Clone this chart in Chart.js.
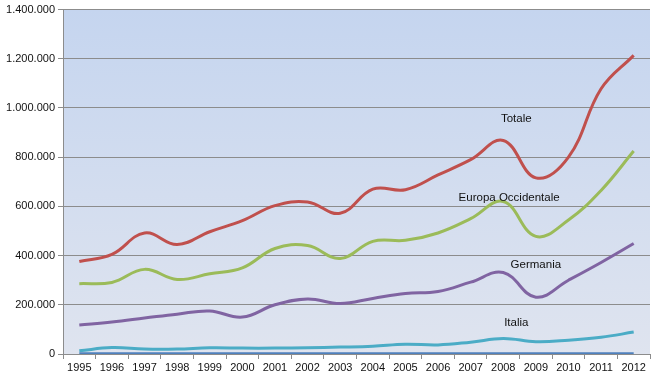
<!DOCTYPE html>
<html><head><meta charset="utf-8">
<script src="https://cdn.jsdelivr.net/npm/chart.js@4/dist/chart.umd.min.js"></script>
<style>html,body{margin:0;padding:0;background:#fff}#w{width:659px;height:378px}</style>
</head><body><div id="w"><canvas id="c"></canvas></div>
<script>
const years = ['1995','1996','1997','1998','1999','2000','2001','2002','2003','2004','2005','2006','2007','2008','2009','2010','2011','2012'];
const totale = [376000,405000,492000,445000,497000,542000,603000,618000,572000,670000,668000,728000,790000,868000,716000,800000,1078000,1214000];
const europa = [286000,291000,344000,303000,326000,350000,429000,441000,388000,458000,462000,492000,550000,620000,478000,545000,665000,825000];
const germania = [118000,130000,146000,162000,175000,150000,200000,224000,205000,226000,246000,254000,292000,331000,231000,300000,372000,449000];
const italia = [13000,26000,20000,20000,25000,24000,24000,25000,28000,32000,40000,37000,48000,63000,50000,56000,68000,89000];
const altro = [1000,1000,1000,1000,1000,1000,1000,1000,1000,1000,1000,1000,1000,1000,1000,1000,1000,1000];
const yTicks = [0,200000,400000,600000,800000,1000000,1200000,1400000];
const noteTexts = ['Totale','Europa Occidentale','Germania','Italia'];
const noteCats = [13.4,13.18,14.0,13.4];
const noteValues = [955000,635000,364000,125000];

const fmt = v => String(v).replace(/\B(?=(\d{3})+(?!\d))/g, '.');

const bgPlugin = {
  id:'bg',
  beforeDraw(chart){
    const {ctx, chartArea:a} = chart;
    const g = ctx.createLinearGradient(0,a.top,0,a.bottom);
    g.addColorStop(0,'#c5d5ef');
    g.addColorStop(1,'#dfe4ef');
    ctx.save(); ctx.fillStyle = g; ctx.fillRect(a.left,a.top,a.right-a.left,a.bottom-a.top); ctx.restore();
  }
};
const notePlugin = {
  id:'notes',
  afterDatasetsDraw(chart){
    const {ctx, scales:{x,y}} = chart;
    ctx.save();
    ctx.font = '11.5px "Liberation Sans", Arial, sans-serif';
    ctx.fillStyle = '#111';
    ctx.textAlign = 'center'; ctx.textBaseline = 'middle';
    noteTexts.forEach((t,i)=>{ ctx.fillText(t, x.getPixelForValue(noteCats[i]), y.getPixelForValue(noteValues[i])); });
    ctx.restore();
  }
};
const ds = (label,data,color) => ({label,data,borderColor:color,backgroundColor:color,borderWidth:3,pointRadius:0,tension:0.4,fill:false});

new Chart(document.getElementById('c'),{
  type:'line',
  data:{labels:years,datasets:[
    ds('Altro',altro,'#4f81bd'),
    ds('Italia',italia,'#4bacc6'),
    ds('Germania',germania,'#8064a2'),
    ds('Europa Occidentale',europa,'#9bbb59'),
    ds('Totale',totale,'#c0504d')
  ]},
  options:{
    responsive:true, maintainAspectRatio:false, animation:false,
    layout:{padding:{top:8,right:9,left:0,bottom:0}},
    plugins:{legend:{display:false},tooltip:{enabled:false}},
    scales:{
      x:{offset:true,
        grid:{offset:true,drawOnChartArea:false,drawTicks:true,tickLength:5,color:'#8c8c8c'},
        border:{display:true,color:'#8c8c8c'},
        ticks:{color:'#111',font:{family:'"Liberation Sans", Arial, sans-serif',size:11},padding:2,maxRotation:0,autoSkip:false},
        afterFit(s){s.height=24;}
      },
      y:{min:0,max:1400000,
        afterBuildTicks(s){s.ticks = yTicks.map(v=>({value:v}));},
        grid:{color:'#8c8c8c',tickLength:5,drawTicks:true},
        border:{display:true,color:'#8c8c8c'},
        ticks:{color:'#111',font:{family:'"Liberation Sans", Arial, sans-serif',size:11},padding:3,callback:v=>fmt(v)},
        afterFit(s){s.width=63;}
      }
    }
  },
  plugins:[bgPlugin,notePlugin]
});
</script></body></html>
